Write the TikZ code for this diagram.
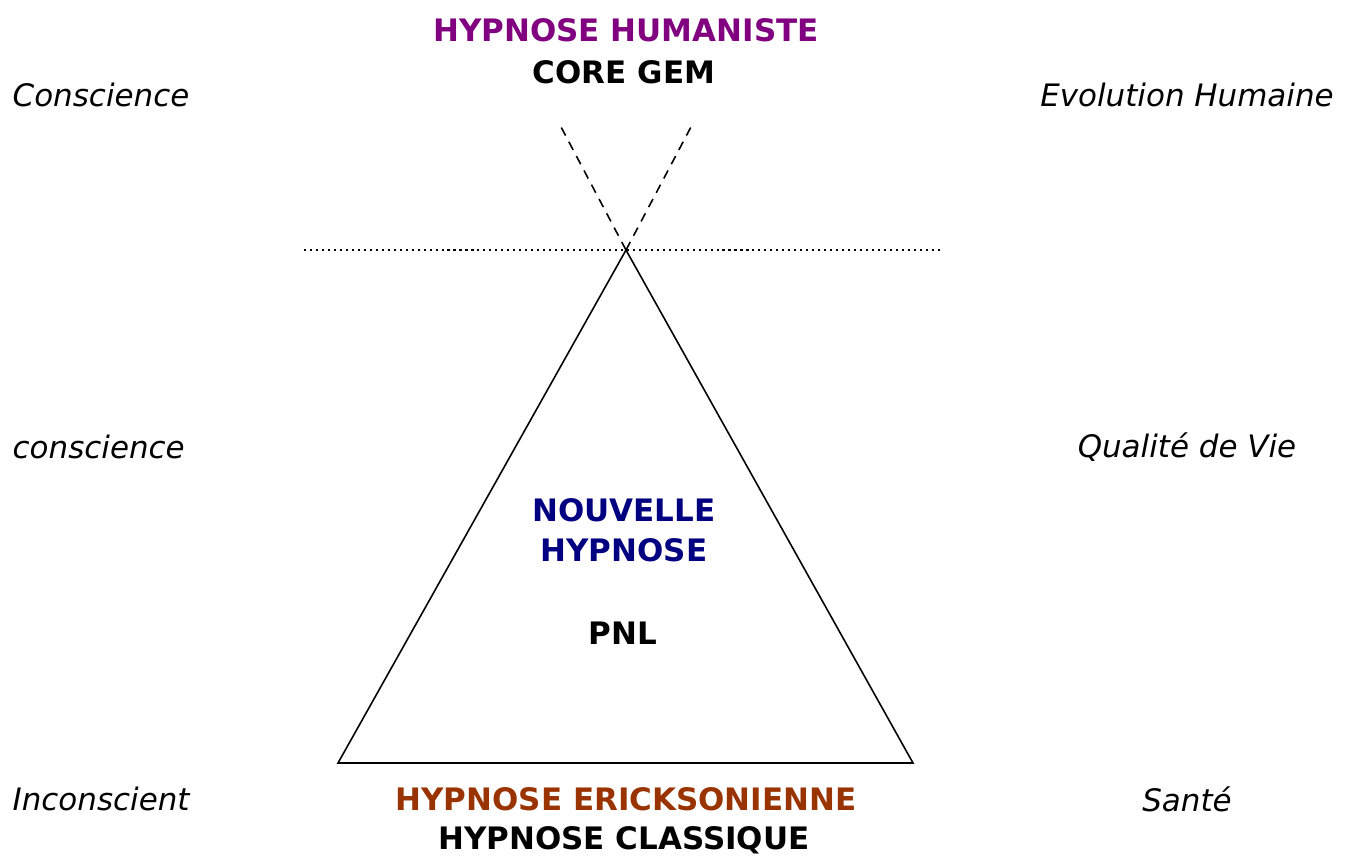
\documentclass[tikz,border=0pt]{standalone}
\usepackage{fontspec}
\setmainfont{DejaVu Sans}
\usetikzlibrary{calc}
\definecolor{humaniste}{HTML}{800080}
\definecolor{nouvelle}{HTML}{000080}
\definecolor{ericksonienne}{HTML}{993300}

\begin{document}
\begin{tikzpicture}[x=0.01cm,y=-0.01cm,
		titre/.style={font=\fontsize{8.8}{10}\selectfont\bfseries, inner sep=0pt},
		axe/.style={font=\fontsize{8.8}{10}\selectfont\itshape, inner sep=0pt},
		trait/.style={line width=0.45pt}]
		\useasboundingbox (0,0) rectangle (1354,856);
		% titres du centre
		\node[titre, text=humaniste] (humaniste) at (626,30) {HYPNOSE HUMANISTE};
		\node[titre] (core) at (624,72) {CORE GEM};
		\node[titre, text=nouvelle] (nouvelle) at (624,510) {NOUVELLE};
		\node[titre, text=nouvelle] (hypnose) at (624,550) {HYPNOSE};
		\node[titre] (pnl) at (623,633) {PNL};
		\node[titre, text=ericksonienne] (erickson) at (626,799) {HYPNOSE ERICKSONIENNE};
		\node[titre] (classique) at (624,840) {HYPNOSE CLASSIQUE};
		% axes gauche et droite
		\foreach \y/\gauche/\droite in {95/Conscience/Evolution Humaine, 447/conscience/Qualité de Vie, 799/Inconscient/Santé}{
			\node[axe, anchor=west] (g\y) at (12,\y) {\gauche};
			\node[axe] (d\y) at (1187,\y) {\droite};
		}
		% triangle
		\coordinate (sommet) at (626,250);
		\coordinate (baseG) at (338,763);
		\coordinate (baseD) at (913,763);
		\draw[trait] (sommet) -- (baseG) -- (baseD) -- cycle;
		\coordinate (seuilG) at (304,250);
		\coordinate (seuilD) at (942,250);
		\draw[trait, dash pattern=on 0.6pt off 1.1pt] (seuilG) -- (seuilD);
		\coordinate (ouvG) at (560,125);
		\coordinate (ouvD) at (692,125);
		\foreach \c in {ouvG,ouvD}
			\draw[trait, dash pattern=on 2.6pt off 2pt] (sommet) -- (\c);
	\end{tikzpicture}
\end{document}
